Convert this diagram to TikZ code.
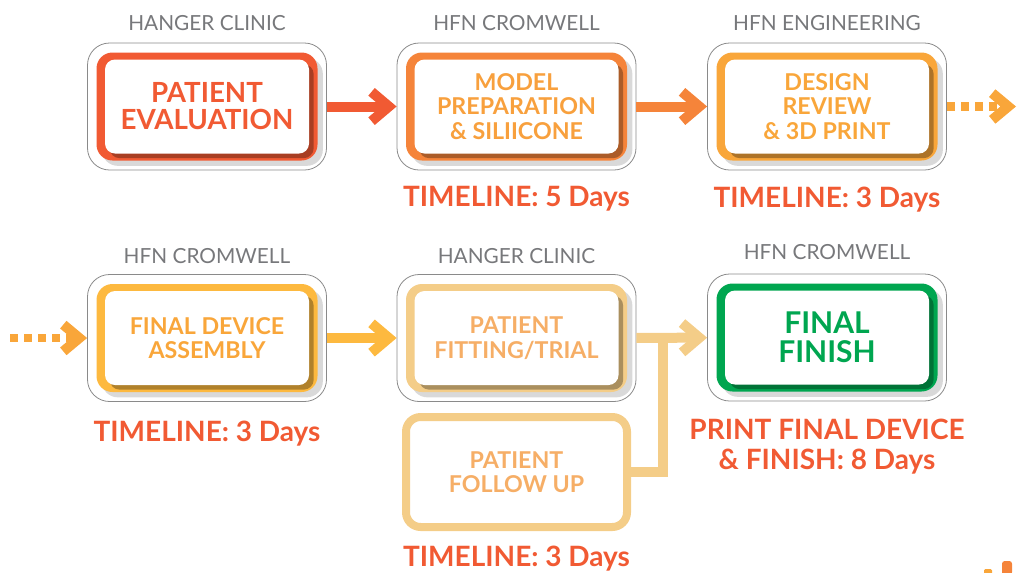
\documentclass[tikz,border=0pt]{standalone}
\usepackage{fontspec}
\setmainfont{Lato}
\usetikzlibrary{positioning,arrows.meta,shadows}
\definecolor{cRed}{HTML}{F15A33}
\definecolor{cOrange}{HTML}{F5843A}
\definecolor{cOrangeTxt}{HTML}{F8A03D}
\definecolor{cAmber}{HTML}{F9A63A}
\definecolor{cYellow}{HTML}{FDB93F}
\definecolor{cTan}{HTML}{F4CD88}
\definecolor{cTanTxt}{HTML}{F6AE66}
\definecolor{cGreen}{HTML}{00A650}
\definecolor{cGrey}{HTML}{77787B}
\definecolor{cFrame}{HTML}{8A8A8A}
\begin{document}
\begin{tikzpicture}[x=0.75pt,y=-0.75pt]
      \tikzset{frame/.style={draw=cFrame,
          line width=0.6pt,
          fill=white,
          rounded corners=16.5pt,
          minimum width=179.25pt,
          minimum height=95.25pt},
        colbox/.style={fill=#1,
          rounded corners=12pt,
          minimum width=165.75pt,
          minimum height=81pt,
          drop shadow={shadow xshift=4pt, shadow yshift=-4pt, opacity=0.15, fill=black}},
        stepbox/.style={fill=white,
          text=#1,
          align=center,
          inner sep=0pt,
          rounded corners=7.5pt,
          minimum width=153pt,
          minimum height=70.5pt,
          drop shadow={shadow xshift=3.5pt, shadow yshift=-3.5pt, opacity=0.3, fill=black}},
        big/.style={font=\fontsize{20.8}{20.25}\selectfont\bfseries},
        small/.style={font=\fontsize{17.4}{18.4}\selectfont\bfseries},
        org/.style={text=cGrey, inner sep=0pt, label distance=8.5pt,
          font=\fontsize{15.6}{16}\selectfont},
        timeline/.style={text=cRed, inner sep=0pt, align=center,
          font=\fontsize{21}{22.5}\selectfont\bfseries},
        flow/.style={draw=#1, line width=7.5pt,
          -{Straight Barb[length=13pt,width=22pt]}},
        dotflow/.style={draw=#1, line width=6.5pt, dash pattern=on 6pt off 4.5pt,
          -{Straight Barb[length=12pt,width=20pt,line width=7.5pt]}}
      }
      \useasboundingbox (0,0) rectangle (1017,572);
      % first row
      \node [frame,label={[org]90:HANGER CLINIC}] (PE) at (207,106.5) {};
      \node [colbox=cRed] (PEc) at (PE) {};
      \node [stepbox=cRed,big] (PEt) at (PE) {PATIENT\\EVALUATION};
      \node [frame,label={[org]90:HFN CROMWELL},
        label={[timeline,label distance=12pt]270:TIMELINE: 5 Days}] (MP) at (516.5,106.5) {};
      \node [colbox=cOrange] (MPc) at (MP) {};
      \node [stepbox=cOrangeTxt,small] (MPt) at (MP) {MODEL\\PREPARATION\\\& SILIICONE};
      \node [frame,label={[org]90:HFN ENGINEERING},
        label={[timeline,label distance=12pt]270:TIMELINE: 3 Days}] (DR) at (827,106.5) {};
      \node [colbox=cAmber] (DRc) at (DR) {};
      \node [stepbox=cAmber,small] (DRt) at (DR) {DESIGN\\REVIEW\\\& 3D PRINT};
      % second row
      \node [frame,label={[org,label distance=8pt]90:HFN CROMWELL},
        label={[timeline,label distance=14pt]270:TIMELINE: 3 Days}] (FA) at (207,338) {};
      \node [colbox=cYellow] (FAc) at (FA) {};
      \node [stepbox=cAmber,small] (FAt) at (FA) {FINAL DEVICE\\ASSEMBLY};
      \node [frame,label={[org,label distance=8pt]90:HANGER CLINIC}] (PF) at (516.5,338) {};
      \node [colbox=cTan] (PFc) at (PF) {};
      \node [stepbox=cTanTxt,small] (PFt) at (PF) {PATIENT\\FITTING/TRIAL};
      \node [frame,label={[org,label distance=10pt]90:HFN CROMWELL},
        label={[timeline,label distance=13pt]270:{PRINT FINAL DEVICE\\\& FINISH: 8 Days}}] (FF) at (827,337.5) {};
      \node [colbox=cGreen] (FFc) at (FF) {};
      \node [stepbox=cGreen,font=\fontsize{22.5}{21.75}\selectfont\bfseries] (FFt) at (FF) {FINAL\\FINISH};
      \node [draw=cTan, line width=6pt, fill=white, rounded corners=11pt,
        minimum width=165.75pt, minimum height=82.5pt, text=cTanTxt, align=center,
        small, label={[timeline,label distance=11pt]270:TIMELINE: 3 Days}] (FU) at (516.5,472) {PATIENT\\FOLLOW UP};
      \coordinate (J) at (663,339);
      \coordinate (outR) at (1016,106.5);
      \coordinate (inL) at (10,338);
      % connectors
      \draw [flow=cRed] (PE) -- (MP);
      \draw [flow=cOrange] (MP) -- (DR);
      \draw [dotflow=cAmber] (DR.east) -- (outR);
      \draw [dotflow=cAmber] (inL) -- (FA.west);
      \draw [flow=cYellow] (FA) -- (PF);
      \draw [flow=cTan] (PF) -- (FF);
      \draw [draw=cTan, line width=7.5pt] (FU.east) -| (J);
      % corner of a logo
      \fill [cOrange, rounded corners=2pt] (1002,561) rectangle (1012,575);
      \fill [cAmber, rounded corners=1pt] (984,569) rectangle (992,575);
    \end{tikzpicture}
\end{document}
